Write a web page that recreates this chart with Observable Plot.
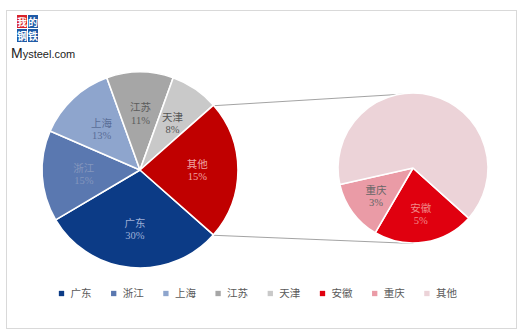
<!DOCTYPE html>
<html><head><meta charset="utf-8">
<script src="https://cdn.jsdelivr.net/npm/d3@7"></script>
<script src="https://cdn.jsdelivr.net/npm/@observablehq/plot@0.6"></script>
<style>
body{margin:0;background:#fff;}
#wrap{position:relative;width:522px;height:334px;overflow:hidden;}
#wrap svg{position:absolute;left:0;top:0;}
.logo{position:absolute;left:17px;top:15px;width:22px;}
.logo span{position:absolute;width:10px;height:13px;color:#fff;font:bold 10px "Noto Sans CJK SC";line-height:13px;text-align:center;}
.brand{position:absolute;left:11px;top:45px;font-family:"Liberation Sans",Arial,sans-serif;font-size:11px;color:#222;white-space:nowrap;}
.brand b{font-weight:normal;font-size:14px;}
</style></head><body><div id="wrap"></div><script>
// ---- data ----
const mainLabels = ["广东", "浙江", "上海", "江苏", "天津"];
const mainValues = [30, 15, 13, 11, 8];
const otherLabel = "其他";
const secondLabels = ["安徽", "重庆", "其他"];
const secondValues = [5, 3, 15];
const legendLabels = ["广东", "浙江", "上海", "江苏", "天津", "安徽", "重庆", "其他"];

// ---- styles ----
const mainColors = ["#0c3b86", "#5a78b0", "#8ea5cd", "#a6a6a6", "#c9c9c9", "#c00000"];
const mainTextColors = ["#9eafd6", "#8496bd", "#5a6e98", "#5c5c5c", "#555555", "#f0a4a4"];
const secondColors = ["#e0000f", "#ea9ba6", "#ecd3d8"];
const secondTextColors = ["#f08a8a", "#666666", null];

const W = 522, H = 334;
const L = {cx: 140, cy: 170, r: 98};
const R = {cx: 413, cy: 168, r: 75};

const otherTotal = d3.sum(secondValues);
const leftVals = [...mainValues, otherTotal];
const leftNames = [...mainLabels, otherLabel];
const leftText = [...mainValues.map(v => v + "%"), secondValues[2] + "%"];
const otherShare = otherTotal / d3.sum(leftVals);
const leftArcs = d3.pie().sort(null).value(d => d)
  .startAngle(Math.PI / 2 + otherShare * Math.PI)
  .endAngle(Math.PI / 2 + otherShare * Math.PI + 2 * Math.PI)(leftVals);
const rStart = 132 * Math.PI / 180;
const rightArcs = d3.pie().sort(null).value(d => d)
  .startAngle(rStart).endAngle(rStart + 2 * Math.PI)(secondValues);

const pieMark = (arcs, c, colors) => () => {
  const g = d3.create("svg:g").attr("transform", `translate(${c.cx},${c.cy})`);
  const gen = d3.arc().innerRadius(0).outerRadius(c.r);
  g.selectAll("path").data(arcs).join("path")
    .attr("d", gen).attr("fill", (d, i) => colors[i])
    .attr("stroke", "#fff").attr("stroke-width", 1.6).attr("stroke-linejoin", "round");
  return g.node();
};

const polar = (c, a, k) => [c.cx + Math.sin(a) * c.r * k, c.cy - Math.cos(a) * c.r * k];

const labels = [];
leftArcs.forEach((a, i) => {
  const [x, y] = polar(L, (a.startAngle + a.endAngle) / 2, i === 0 ? 0.6 : 0.58);
  labels.push({x, y, t: leftNames[i] + "\n" + leftText[i], c: mainTextColors[i]});
});
rightArcs.forEach((a, i) => {
  if (!secondTextColors[i]) return;
  const [x, y] = polar(R, (a.startAngle + a.endAngle) / 2, 0.62);
  labels.push({x, y, t: secondLabels[i] + "\n" + secondValues[i] + "%", c: secondTextColors[i]});
});

const oth = leftArcs[leftArcs.length - 1];
const pA = polar(L, oth.startAngle, 1), pB = polar(L, oth.endAngle, 1);
const links = [
  {x1: pA[0], y1: pA[1], x2: R.cx, y2: R.cy - R.r},
  {x1: pB[0], y1: pB[1], x2: R.cx, y2: R.cy + R.r}
];

const legendColors = [...mainColors.slice(0, 5), ...secondColors];
const legend = legendLabels.map((t, i) => ({x: 61 + i * 52.2, y: 293, t, c: legendColors[i]}));

const font = '"Liberation Serif","Noto Sans CJK SC",serif';
const chart = Plot.plot({
  width: W, height: H,
  marginLeft: 6, marginRight: 6, marginTop: 10, marginBottom: 6,
  x: {type: "identity", axis: null},
  y: {type: "identity", axis: null},
  style: {fontFamily: font, background: "transparent"},
  marks: [
    Plot.frame({stroke: "#d9d9d9", strokeWidth: 1}),
    Plot.link(links, {x1: "x1", y1: "y1", x2: "x2", y2: "y2", stroke: "#8c8c8c", strokeWidth: 0.8}),
    pieMark(leftArcs, L, mainColors),
    pieMark(rightArcs, R, secondColors),
    Plot.text(labels, {x: "x", y: "y", text: "t", fill: d => d.c, fontSize: 10.5, lineHeight: 1.15, fontFamily: font}),
    Plot.dot(legend, {x: "x", y: "y", symbol: "square", r: 3, fill: d => d.c, stroke: null}),
    Plot.text(legend, {x: d => d.x + 9, y: "y", text: "t", textAnchor: "start", fill: "#595959", fontSize: 10.5, fontFamily: font, style: "letter-spacing:1.5px"})
  ]
});
const wrap = document.getElementById("wrap");
wrap.appendChild(chart);
// fill/colors via channel functions map through identity? ensure literal colors
const logo = document.createElement("div");
logo.className = "logo";
logo.innerHTML = '<span style="left:0;top:0;background:#d8232a">我</span><span style="left:11px;top:0;background:#1f5aa6">的</span><span style="left:0;top:14px;background:#1f5aa6">钢</span><span style="left:11px;top:14px;background:#1f5aa6">铁</span>';
wrap.appendChild(logo);
const brand = document.createElement("div");
brand.className = "brand";
brand.innerHTML = "<b>M</b>ysteel.com";
wrap.appendChild(brand);
</script></body></html>
